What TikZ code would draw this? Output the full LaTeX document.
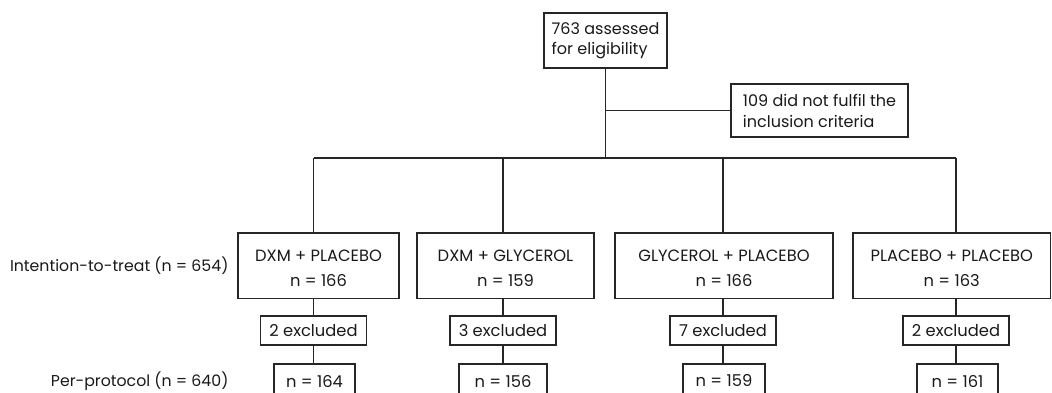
\documentclass[tikz,border=0pt]{standalone}
\usepackage{fontspec}
\setmainfont{Poppins}
\begin{document}
\begin{tikzpicture}[x=0.025cm, y=-0.025cm, line width=0.8pt, draw=black!85, text=black!90,
  box node/.style={draw, rectangle, inner sep=0pt, align=center, font=\fontsize{11.6}{17.8}\selectfont},
  group node/.style={box node, minimum height=1.6375cm, text height=30.2pt, text depth=0pt},
  small node/.style={box node, minimum height=0.725cm, minimum width=2.65cm},
  pp node/.style={box node, minimum height=0.85cm},
  side node/.style={anchor=east, inner sep=0pt, font=\fontsize{11.2}{12}\selectfont}]

          \useasboundingbox (0,0) rectangle (1052,393);

          \node[box node, align=left, minimum width=3.075cm, minimum height=1.375cm, font=\fontsize{11.4}{14.2}\selectfont] (top) at (605.5,40.5) {763 assessed\\for eligibility};
          \node[box node, align=left, minimum width=4.425cm, minimum height=1.325cm, font=\fontsize{11.4}{14.9}\selectfont] (out) at (819.5,110.5) {109 did not fulfil the\\inclusion criteria};
          \coordinate (bus) at (605,158);

          \node[group node, minimum width=4.025cm] (g1) at (318.5,265.75) {DXM + PLACEBO\\n = 166};
          \node[group node, minimum width=4.425cm] (g2) at (505.5,265.75) {DXM + GLYCEROL\\n = 159};
          \node[group node, minimum width=5.45cm] (g3) at (724,265.75) {GLYCEROL + PLACEBO\\n = 166};
          \node[group node, minimum width=4.9375cm] (g4) at (951.75,265.75) {PLACEBO + PLACEBO\\n = 163};

          \node[small node] (e1) at (313.5,330.5) {2 excluded};
          \node[small node] (e2) at (503,330.5) {3 excluded};
          \node[small node] (e3) at (723,330.5) {7 excluded};
          \node[small node] (e4) at (956,330.5) {2 excluded};

          \node[pp node, minimum width=2.025cm] (p1) at (314.5,381) {n = 164};
          \node[pp node, minimum width=2.2cm] (p2) at (503,381) {n = 156};
          \node[pp node, minimum width=2.05cm] (p3) at (724,381) {n = 159};
          \node[pp node, minimum width=2.025cm] (p4) at (957.5,381) {n = 161};

          \node[side node] (itt) at (229,266) {Intention-to-treat (n = 654)};
          \node[side node] (pp) at (229,381) {Per-protocol (n = 640)};

          \draw (top.south) -- (top.south |- bus);
          \draw (top.south |- out.west) -- (out.west);
          \draw (e1 |- bus) -- (e4 |- bus);

          \foreach \i in {1,2,3,4} {
            \draw (e\i |- bus) -- (e\i |- g\i.north);
            \draw (e\i |- g\i.south) -- (e\i.north);
            \draw (e\i.south) -- (e\i.south |- p\i.north);
          }
        \end{tikzpicture}
\end{document}
